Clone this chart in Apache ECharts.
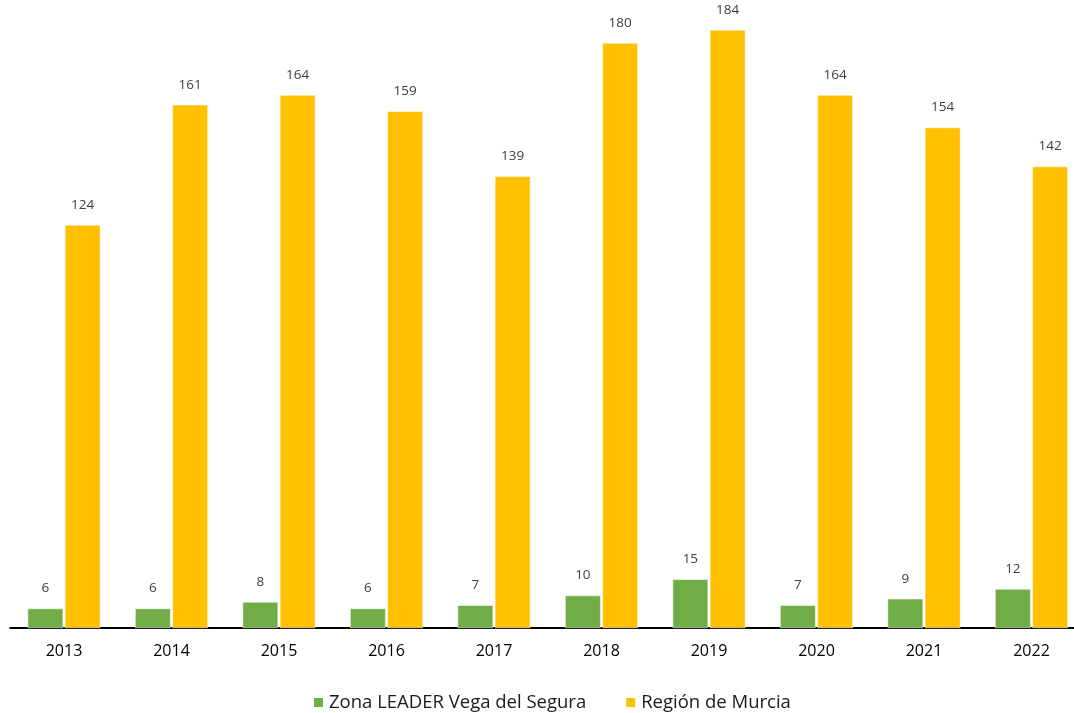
<!DOCTYPE html>
<html>
<head>
<meta charset="utf-8">
<script src="https://cdn.jsdelivr.net/npm/echarts@6/dist/echarts.min.js"></script>
<style>html,body{margin:0;padding:0;background:#fff;overflow:hidden;width:1074px;height:713px;}#c{width:1086px;height:713px;}</style>
</head>
<body>
<div id="c"></div>
<script>
const categories = ['2013','2014','2015','2016','2017','2018','2019','2020','2021','2022'];
const zonaLeader = [6,6,8,6,7,10,15,7,9,12];
const regionMurcia = [124,161,164,159,139,180,184,164,154,142];
const seriesNames = ['Zona LEADER Vega del Segura','Región de Murcia'];

const FONT = 'Open Sans';
const chart = echarts.init(document.getElementById('c'), null, {renderer:'canvas'});
const labelCfg = {show:true, position:'top', distance:13, color:'#404040', fontSize:13.5, fontFamily:FONT};
chart.setOption({
  animation:false,
  textStyle:{fontFamily:FONT},
  grid:{left:10.25, right:0.75, top:10.5, height:617.5, containLabel:false},
  legend:{
    top:688, left:307,
    itemWidth:11, itemHeight:11, itemGap:38,
    icon:'rect',
    textStyle:{fontSize:18.5, color:'#1a1a1a', fontFamily:FONT},
    data:seriesNames
  },
  xAxis:{
    type:'category', data:categories,
    axisLine:{lineStyle:{color:'#000', width:2}},
    axisTick:{show:false},
    axisLabel:{color:'#000', fontSize:16, margin:15, fontFamily:FONT}
  },
  yAxis:{
    type:'value', min:0, max:190, show:false, splitLine:{show:false}
  },
  series:[
    {name:seriesNames[0], type:'bar', data:zonaLeader, barWidth:35.5, barGap:'5%',
     itemStyle:{color:'#70AD47', borderColor:'#fff', borderWidth:0.5}, label:labelCfg},
    {name:seriesNames[1], type:'bar', data:regionMurcia, barWidth:35.5,
     itemStyle:{color:'#FFC000', borderColor:'#fff', borderWidth:0.5}, label:labelCfg}
  ]
});
</script>
</body>
</html>
